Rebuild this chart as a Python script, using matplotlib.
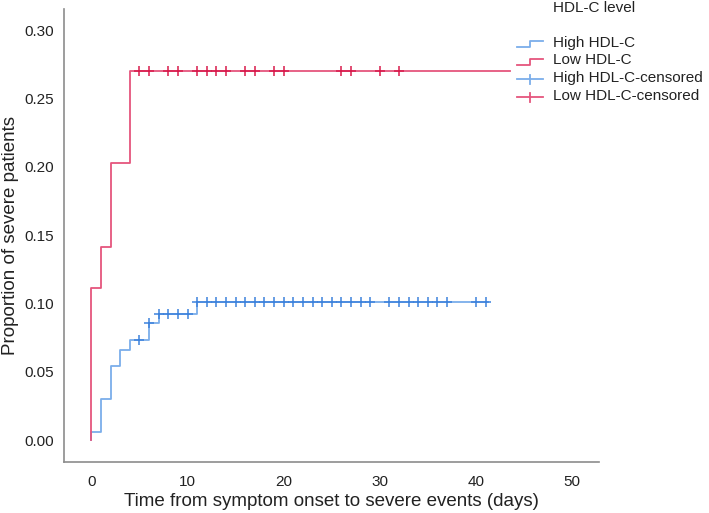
import numpy as np
import matplotlib
matplotlib.use("Agg")
import matplotlib.pyplot as plt
from matplotlib.lines import Line2D

plt.rcParams['font.family'] = ['Liberation Sans', 'DejaVu Sans']

# ---- data ----
high_event_times = [0, 0, 1, 2, 3, 4, 6, 7, 11]
high_event_props = [0.0, 0.006, 0.030, 0.054, 0.066, 0.073, 0.086, 0.092, 0.101]
high_end_time = 41.3
high_censored = [5, 6, 7, 8, 9, 10, 11, 12, 13, 14, 15, 16, 17, 18, 19, 20, 21, 22,
                 23, 24, 25, 26, 27, 28, 29, 31, 32, 33, 34, 35, 36, 37, 40, 41]

low_event_times = [0, 0, 1, 2, 4]
low_event_props = [0.0, 0.111, 0.141, 0.203, 0.270]
low_end_time = 43.5
low_censored = [5, 6, 8, 9, 11, 12, 13, 14, 16, 17, 19, 20, 26, 27, 30, 32]

x_ticks = [0, 10, 20, 30, 40, 50]
y_ticks = [0.00, 0.05, 0.10, 0.15, 0.20, 0.25, 0.30]

legend_title = "HDL-C level"
legend_labels = ["High HDL-C", "Low HDL-C", "High HDL-C-censored", "Low HDL-C-censored"]

blue_line = "#7BAEEA"
blue_mark = "#3D82DC"
red_line = "#E5557D"
red_mark = "#D81B4C"

W, H = 709, 513
fig = plt.figure(figsize=(W / 100, H / 100), dpi=100)
ax = fig.add_axes([64 / W, 1 - 462 / H, (599 - 64) / W, (462 - 9) / H])


def step_value(times, props, t):
    idx = np.searchsorted(np.array(times), t, side='right') - 1
    return np.array(props)[idx]


for times, props, end, cens, lc, mc in [
    (high_event_times, high_event_props, high_end_time, high_censored, blue_line, blue_mark),
    (low_event_times, low_event_props, low_end_time, low_censored, red_line, red_mark),
]:
    xs = list(times) + [end]
    ys = list(props) + [props[-1]]
    ax.step(xs, ys, where='post', color=lc, lw=1.3, zorder=2)
    cy = [step_value(times, props, t) for t in cens]
    ax.plot(cens, cy, linestyle='none', marker='+', markersize=7,
            markeredgewidth=1.1, color=mc, zorder=3)

ax.set_xlim(-2.85, 52.8)
ax.set_ylim(-0.0161, 0.3155)
ax.set_xticks(x_ticks)
ax.set_xticklabels([str(v) for v in x_ticks])
ax.set_yticks(y_ticks)
ax.set_yticklabels([f"{v:.2f}" for v in y_ticks])
ax.tick_params(axis='both', length=0, labelsize=11, colors='#222222')
ax.tick_params(axis='y', pad=7)
ax.tick_params(axis='x', pad=9)
for s in ['top', 'right']:
    ax.spines[s].set_visible(False)
for s in ['left', 'bottom']:
    ax.spines[s].set_color('#8c8c8c')
    ax.spines[s].set_linewidth(1.2)

ax.set_xlabel("Time from symptom onset to severe events (days)", fontsize=13.5,
              color='#222222', labelpad=3)
ax.set_ylabel("Proportion of severe patients", fontsize=13.5, color='#222222',
              labelpad=4)

# ---- legend (pixel coordinates overlay) ----
lax = fig.add_axes([0, 0, 1, 1])
lax.set_xlim(0, W)
lax.set_ylim(H, 0)
lax.axis('off')
lax.text(552.7, 8.0, legend_title, fontsize=11, va='center', ha='left', color='#222222')
x0, x1 = 516.7, 543.3
xm = (x0 + x1) / 2
rows = [43.5, 61.5, 79.0, 97.0]
for i, (lab, y) in enumerate(zip(legend_labels, rows)):
    if i < 2:
        c = blue_line if i == 0 else red_line
        lax.add_line(Line2D([x0, xm, xm, x1], [y + 3, y + 3, y - 3, y - 3],
                            color=c, lw=1.3))
    else:
        c = blue_line if i == 2 else red_line
        lax.add_line(Line2D([x0, x1], [y, y], color=c, lw=1.3))
        lax.add_line(Line2D([xm, xm], [y - 4.5, y + 4.5], color=c, lw=1.3))
    lax.text(552.7, y - 1, lab, fontsize=11, va='center', ha='left', color='#222222')

fig.savefig("out.png", dpi=100)
